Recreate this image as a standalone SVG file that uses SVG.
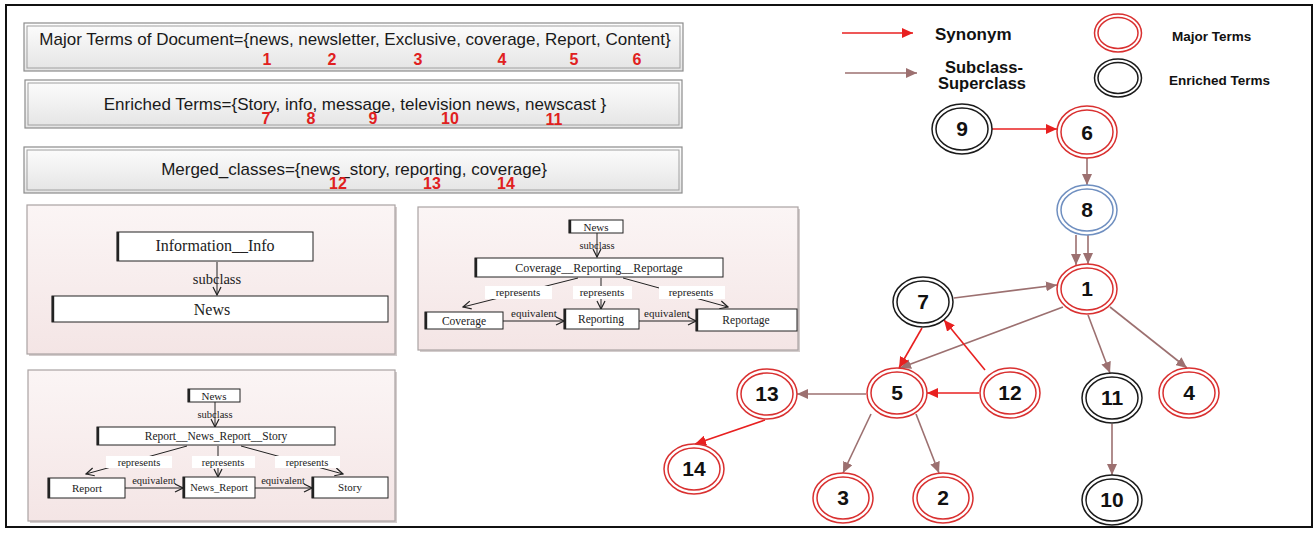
<svg xmlns="http://www.w3.org/2000/svg" width="1314" height="540" viewBox="0 0 1314 540">
<defs>
<linearGradient id="gBox" x1="0" y1="0" x2="0" y2="1"><stop offset="0" stop-color="#fdfdfd"/><stop offset="1" stop-color="#e4e4e4"/></linearGradient>
<linearGradient id="gPink" x1="0" y1="0" x2="0" y2="1"><stop offset="0" stop-color="#fbf5f5"/><stop offset="1" stop-color="#f4e5e5"/></linearGradient>
<marker id="aRed" markerWidth="12" markerHeight="10" refX="11" refY="5" orient="auto" markerUnits="userSpaceOnUse"><path d="M0,0 L11,5 L0,10 z" fill="#e82020"/></marker>
<marker id="aBrn" markerWidth="12" markerHeight="10" refX="11" refY="5" orient="auto" markerUnits="userSpaceOnUse"><path d="M0,0 L11,5 L0,10 z" fill="#9c7070"/></marker>
<marker id="aOpen" markerWidth="10" markerHeight="10" refX="9" refY="5" orient="auto" markerUnits="userSpaceOnUse"><path d="M1,1 L9,5 L1,9" fill="none" stroke="#222" stroke-width="1.2"/></marker>
</defs>
<style>
.tb{fill:url(#gBox);stroke:#8c8c8c;stroke-width:1.2}
.tbi{fill:none;stroke:#a0a0a0;stroke-width:1}
.tt{font-family:"Liberation Sans",Arial,sans-serif;font-size:17px;fill:#1a1a1a;text-anchor:middle}
.num{font-family:"Liberation Sans",Arial,sans-serif;font-size:16px;font-weight:bold;fill:#e02020;text-anchor:middle}
.pink{fill:url(#gPink);stroke:#aaa2a2;stroke-width:1.2}
.shadow{fill:#d3cccc}
.ob{fill:#fff;stroke:#222;stroke-width:1}
.ol{stroke:#222;stroke-width:2.4}
.st{font-family:"Liberation Serif","Times New Roman",serif;fill:#222;text-anchor:middle}
.lbl{fill:#fff}
.blk{stroke:#222;stroke-width:1;fill:none}
.red{stroke:#e82020;stroke-width:1.6;fill:none}
.brn{stroke:#9c7070;stroke-width:1.6;fill:none}
.nr ellipse{fill:#fff;stroke:#d93030;stroke-width:1.5}
.nb ellipse{fill:#fff;stroke:#1a1a1a;stroke-width:1.5}
.nu ellipse{fill:#fff;stroke:#6f8fc0;stroke-width:1.5}
ellipse.i{fill:none}
.nt{font-family:"Liberation Sans",Arial,sans-serif;font-size:21px;font-weight:bold;fill:#111;text-anchor:middle}
.lg{font-family:"Liberation Sans",Arial,sans-serif;font-weight:bold;fill:#111}
</style>
<rect x="0" y="0" width="1314" height="540" fill="#fff"/>
<rect x="6" y="5" width="1306" height="522" fill="none" stroke="#111" stroke-width="2"/>

<g id="box-major">
<rect class="tb" x="24" y="23" width="659" height="48"/>
<rect class="tbi" x="27" y="26" width="653" height="42"/>
<text class="tt" x="355" y="45">Major Terms of Document={news, newsletter, Exclusive, coverage, Report, Content}</text>
<text class="num" x="267" y="65">1</text><text class="num" x="332" y="65">2</text><text class="num" x="418" y="65">3</text><text class="num" x="502" y="65">4</text><text class="num" x="574" y="65">5</text><text class="num" x="637" y="65">6</text>
</g>
<g id="box-enriched">
<rect class="tb" x="25" y="80" width="657" height="48"/>
<rect class="tbi" x="28" y="83" width="651" height="42"/>
<text class="tt" x="355" y="110">Enriched Terms={Story, info, message, television news, newscast }</text>
<text class="num" x="266" y="124">7</text><text class="num" x="311" y="124">8</text><text class="num" x="373" y="124">9</text><text class="num" x="450" y="124">10</text><text class="num" x="554" y="125">11</text>
</g>
<g id="box-merged">
<rect class="tb" x="24" y="147" width="658" height="46"/>
<rect class="tbi" x="27" y="150" width="652" height="40"/>
<text class="tt" x="354" y="175">Merged_classes={news_story, reporting, coverage}</text>
<text class="num" x="338" y="189">12</text><text class="num" x="432" y="189">13</text><text class="num" x="506" y="189">14</text>
</g>

<g id="panel-info">
<rect class="shadow" x="29" y="207" width="368" height="149"/>
<rect class="pink" x="27" y="205" width="368" height="149"/>
<g id="p1-info"><rect class="ob" x="117" y="232" width="196" height="29"/><line class="ol" x1="118" y1="232" x2="118" y2="261"/><text class="st" x="215" y="251" font-size="16">Information__Info</text></g>
<g id="p1-conn"><line class="blk" x1="217" y1="262" x2="217" y2="295" marker-end="url(#aOpen)"/><text class="st" x="217" y="284" font-size="14.5">subclass</text></g>
<g id="p1-news"><rect class="ob" x="52" y="296" width="336" height="26"/><line class="ol" x1="53" y1="296" x2="53" y2="322"/><text class="st" x="212" y="315" font-size="16">News</text></g>
</g>

<g id="panel-coverage">
<rect class="shadow" x="420" y="209" width="380" height="143"/>
<rect class="pink" x="418" y="207" width="380" height="143"/>
<g id="p2-conn">
<line class="blk" x1="597" y1="233" x2="597" y2="257" marker-end="url(#aOpen)"/>
<text class="st" x="597" y="249" font-size="10.5">subclass</text>
<line class="blk" x1="578" y1="278" x2="463" y2="307" marker-end="url(#aOpen)"/>
<line class="blk" x1="601" y1="278" x2="601" y2="309" marker-end="url(#aOpen)"/>
<line class="blk" x1="623" y1="278" x2="728" y2="307" marker-end="url(#aOpen)"/>
<rect class="lbl" x="485" y="286" width="67" height="13"/><text class="st" x="518" y="296" font-size="11">represents</text>
<rect class="lbl" x="573" y="286" width="59" height="13"/><text class="st" x="602" y="296" font-size="11">represents</text>
<rect class="lbl" x="659" y="286" width="66" height="13"/><text class="st" x="691" y="296" font-size="11">represents</text>
<line class="blk" x1="503" y1="321" x2="564" y2="321" marker-end="url(#aOpen)"/><text class="st" x="534" y="317" font-size="11">equivalent</text>
<line class="blk" x1="639" y1="321" x2="696" y2="321" marker-end="url(#aOpen)"/><text class="st" x="667" y="317" font-size="11">equivalent</text>
</g>
<g id="p2-news"><rect class="ob" x="569" y="220" width="54" height="13"/><line class="ol" x1="570" y1="220" x2="570" y2="233"/><text class="st" x="596" y="231" font-size="11">News</text></g>
<g id="p2-crr"><rect class="ob" x="475" y="258" width="248" height="19"/><line class="ol" x1="476" y1="258" x2="476" y2="277"/><text class="st" x="599" y="272" font-size="12">Coverage__Reporting__Reportage</text></g>
<g id="p2-coverage"><rect class="ob" x="425" y="312" width="78" height="17"/><line class="ol" x1="426" y1="312" x2="426" y2="329"/><text class="st" x="464" y="325" font-size="11.5">Coverage</text></g>
<g id="p2-reporting"><rect class="ob" x="564" y="309" width="75" height="20"/><line class="ol" x1="565" y1="309" x2="565" y2="329"/><text class="st" x="601" y="323" font-size="11.5">Reporting</text></g>
<g id="p2-reportage"><rect class="ob" x="696" y="309" width="101" height="22"/><line class="ol" x1="697" y1="309" x2="697" y2="331"/><text class="st" x="746" y="324" font-size="11.5">Reportage</text></g>
</g>

<g id="panel-report">
<rect class="shadow" x="30" y="372" width="367" height="151"/>
<rect class="pink" x="28" y="370" width="367" height="151"/>
<g id="p3-conn">
<line class="blk" x1="215" y1="402" x2="215" y2="427" marker-end="url(#aOpen)"/>
<text class="st" x="215" y="418" font-size="10.5">subclass</text>
<line class="blk" x1="187" y1="446" x2="86" y2="474" marker-end="url(#aOpen)"/>
<line class="blk" x1="218" y1="446" x2="218" y2="477" marker-end="url(#aOpen)"/>
<line class="blk" x1="241" y1="446" x2="343" y2="474" marker-end="url(#aOpen)"/>
<rect class="lbl" x="106" y="456" width="66" height="12"/><text class="st" x="139" y="465.5" font-size="10.5">represents</text>
<rect class="lbl" x="192" y="456" width="63" height="12"/><text class="st" x="223" y="465.5" font-size="10.5">represents</text>
<rect class="lbl" x="275" y="456" width="65" height="12"/><text class="st" x="307" y="465.5" font-size="10.5">represents</text>
<line class="blk" x1="125" y1="488" x2="183" y2="488" marker-end="url(#aOpen)"/><text class="st" x="154" y="484" font-size="10.5">equivalent</text>
<line class="blk" x1="255" y1="488" x2="312" y2="488" marker-end="url(#aOpen)"/><text class="st" x="283" y="484" font-size="10.5">equivalent</text>
</g>
<g id="p3-news"><rect class="ob" x="188" y="389" width="52" height="13"/><line class="ol" x1="189" y1="389" x2="189" y2="402"/><text class="st" x="214" y="399.5" font-size="11">News</text></g>
<g id="p3-rnrs"><rect class="ob" x="97" y="427" width="238" height="18"/><line class="ol" x1="98" y1="427" x2="98" y2="445"/><text class="st" x="216" y="440" font-size="11.5">Report__News_Report__Story</text></g>
<g id="p3-report"><rect class="ob" x="48" y="478" width="77" height="20"/><line class="ol" x1="49" y1="478" x2="49" y2="498"/><text class="st" x="87" y="492" font-size="11">Report</text></g>
<g id="p3-newsreport"><rect class="ob" x="183" y="477" width="72" height="21"/><line class="ol" x1="184" y1="477" x2="184" y2="498"/><text class="st" x="219" y="491" font-size="10.5">News_Report</text></g>
<g id="p3-story"><rect class="ob" x="312" y="477" width="76" height="21"/><line class="ol" x1="313" y1="477" x2="313" y2="498"/><text class="st" x="350" y="491" font-size="11">Story</text></g>
</g>

<g id="legend">
<line class="red" x1="842" y1="33" x2="913" y2="33" marker-end="url(#aRed)"/>
<text class="lg" x="935" y="40" font-size="17">Synonym</text>
<line class="brn" x1="845" y1="73" x2="917" y2="73" marker-end="url(#aBrn)"/>
<text class="lg" x="945" y="73" font-size="16.5">Subclass-</text>
<text class="lg" x="938" y="89" font-size="16.5">Superclass</text>
<g class="nr"><ellipse cx="1118" cy="33" rx="23.5" ry="19"/><ellipse class="i" cx="1118" cy="33" rx="20" ry="15.5"/></g>
<text class="lg" x="1172" y="41" font-size="13.5">Major Terms</text>
<g class="nb"><ellipse cx="1118" cy="78" rx="23.5" ry="19"/><ellipse class="i" cx="1118" cy="78" rx="20" ry="15.5"/></g>
<text class="lg" x="1169" y="85" font-size="13.5">Enriched Terms</text>
</g>

<g id="connectors">
<line class="red" x1="992" y1="129" x2="1057" y2="129" marker-end="url(#aRed)"/>
<line class="brn" x1="1087" y1="158" x2="1087" y2="185" marker-end="url(#aBrn)"/>
<line class="brn" x1="1076" y1="235" x2="1076" y2="265" marker-end="url(#aBrn)"/>
<line class="brn" x1="1088" y1="235" x2="1088" y2="264" marker-end="url(#aBrn)"/>
<line class="brn" x1="954" y1="298" x2="1057" y2="285" marker-end="url(#aBrn)"/>
<line class="brn" x1="1063" y1="307" x2="900" y2="368" marker-end="url(#aBrn)"/>
<line class="red" x1="922" y1="328" x2="899" y2="368" marker-end="url(#aRed)"/>
<line class="red" x1="985" y1="370" x2="944" y2="320" marker-end="url(#aRed)"/>
<line class="red" x1="979" y1="393" x2="927" y2="393" marker-end="url(#aRed)"/>
<line class="brn" x1="866" y1="394" x2="797" y2="394" marker-end="url(#aBrn)"/>
<line class="red" x1="765" y1="420" x2="695" y2="444" marker-end="url(#aRed)"/>
<line class="brn" x1="871" y1="414" x2="843" y2="473" marker-end="url(#aBrn)"/>
<line class="brn" x1="916" y1="414" x2="939" y2="473" marker-end="url(#aBrn)"/>
<line class="brn" x1="1088" y1="315" x2="1110" y2="373" marker-end="url(#aBrn)"/>
<line class="brn" x1="1110" y1="307" x2="1187" y2="368" marker-end="url(#aBrn)"/>
<line class="brn" x1="1112" y1="424" x2="1112" y2="475" marker-end="url(#aBrn)"/>
</g>

<g id="n9" class="nb"><ellipse cx="962" cy="129" rx="30" ry="25"/><ellipse class="i" cx="962" cy="129" rx="26" ry="21"/><text class="nt" x="962" y="136">9</text></g>
<g id="n6" class="nr"><ellipse cx="1087" cy="132" rx="30" ry="26"/><ellipse class="i" cx="1087" cy="132" rx="26" ry="22"/><text class="nt" x="1087" y="140">6</text></g>
<g id="n8" class="nu"><ellipse cx="1087" cy="210" rx="30" ry="25"/><ellipse class="i" cx="1087" cy="210" rx="26" ry="21"/><text class="nt" x="1087" y="217">8</text></g>
<g id="n1" class="nr"><ellipse cx="1087" cy="289" rx="30" ry="25"/><ellipse class="i" cx="1087" cy="289" rx="26" ry="21"/><text class="nt" x="1087" y="296">1</text></g>
<g id="n7" class="nb"><ellipse cx="923" cy="302" rx="30" ry="25"/><ellipse class="i" cx="923" cy="302" rx="26" ry="21"/><text class="nt" x="923" y="309">7</text></g>
<g id="n5" class="nr"><ellipse cx="897" cy="393" rx="30" ry="25"/><ellipse class="i" cx="897" cy="393" rx="26" ry="21"/><text class="nt" x="897" y="400">5</text></g>
<g id="n12" class="nr"><ellipse cx="1010" cy="393" rx="30" ry="25"/><ellipse class="i" cx="1010" cy="393" rx="26" ry="21"/><text class="nt" x="1010" y="400">12</text></g>
<g id="n13" class="nr"><ellipse cx="767" cy="394" rx="30" ry="25"/><ellipse class="i" cx="767" cy="394" rx="26" ry="21"/><text class="nt" x="767" y="401">13</text></g>
<g id="n14" class="nr"><ellipse cx="694" cy="469" rx="30" ry="25"/><ellipse class="i" cx="694" cy="469" rx="26" ry="21"/><text class="nt" x="694" y="476">14</text></g>
<g id="n3" class="nr"><ellipse cx="843" cy="498" rx="30" ry="25"/><ellipse class="i" cx="843" cy="498" rx="26" ry="21"/><text class="nt" x="843" y="505">3</text></g>
<g id="n2" class="nr"><ellipse cx="943" cy="498" rx="30" ry="25"/><ellipse class="i" cx="943" cy="498" rx="26" ry="21"/><text class="nt" x="943" y="505">2</text></g>
<g id="n11" class="nb"><ellipse cx="1112" cy="398" rx="30" ry="25"/><ellipse class="i" cx="1112" cy="398" rx="26" ry="21"/><text class="nt" x="1112" y="405">11</text></g>
<g id="n4" class="nr"><ellipse cx="1189" cy="393" rx="30" ry="25"/><ellipse class="i" cx="1189" cy="393" rx="26" ry="21"/><text class="nt" x="1189" y="400">4</text></g>
<g id="n10" class="nb"><ellipse cx="1112" cy="500" rx="30" ry="25"/><ellipse class="i" cx="1112" cy="500" rx="26" ry="21"/><text class="nt" x="1112" y="507">10</text></g>
</svg>
